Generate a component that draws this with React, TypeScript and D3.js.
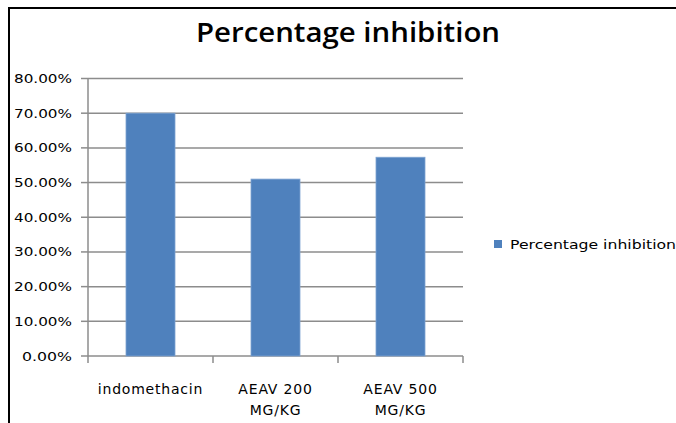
import React from "react";
import * as d3 from "d3";

const categories: string[][] = [["indomethacin"], ["AEAV 200", "MG/KG"], ["AEAV 500", "MG/KG"]];
const values: number[] = [0.70, 0.51, 0.573];
const yTicks: number[] = [0, 0.1, 0.2, 0.3, 0.4, 0.5, 0.6, 0.7, 0.8];
const title = "Percentage inhibition";
const seriesName = "Percentage inhibition";

const W = 676;
const H = 423;
const left = 88;
const right = 463;
const top = 78.5;
const bottom = 356;
const FONT = "'DejaVu Sans', sans-serif";

export default function App() {
  const keys = categories.map((c) => c.join(" "));
  const x = d3.scaleBand<string>().domain(keys).range([left, right]).paddingInner(0.608).paddingOuter(0.304);
  const y = d3.scaleLinear().domain([0, 0.8]).range([bottom, top]);
  const fmt = d3.format(".2%");
  const step = x.step();
  const grid = "#8c8c8c";

  return (
    <svg width={W} height={H} style={{ position: "absolute", left: 0, top: 0, background: "#fff" }}>
      <rect x={0} y={0} width={W} height={H} fill="#fff" />
      <line x1={9} y1={8} x2={W} y2={8} stroke="#000" strokeWidth={2} />
      <line x1={9} y1={7} x2={9} y2={H} stroke="#000" strokeWidth={2} />
      <text x={348} y={42} textAnchor="middle" fontFamily="'Open Sans', sans-serif" fontSize={27} fontWeight={600} fill="#000" textLength={304} lengthAdjust="spacingAndGlyphs">{title}</text>
      {yTicks.map((t) => (
        <g key={t}>
          {t > 0 && <line x1={left} x2={right} y1={y(t)} y2={y(t)} stroke={grid} strokeWidth={1.5} />}
          <line x1={left - 7} x2={left} y1={y(t)} y2={y(t)} stroke={grid} strokeWidth={1.5} />
          <text x={72} y={y(t) + 4.5} textAnchor="end" fontFamily={FONT} fontSize={13} fill="#000" textLength={fmt(t).length === 6 ? 58 : 50} lengthAdjust="spacingAndGlyphs">{fmt(t)}</text>
        </g>
      ))}
      <line x1={left} x2={left} y1={top} y2={bottom} stroke={grid} strokeWidth={1.5} />
      <line x1={left} x2={right} y1={bottom} y2={bottom} stroke={grid} strokeWidth={1.5} />
      {d3.range(keys.length + 1).map((i) => (
        <line key={i} x1={left + i * step} x2={left + i * step} y1={bottom} y2={bottom + 7} stroke={grid} strokeWidth={1.5} />
      ))}
      {values.map((v, i) => (
        <rect key={i} x={x(keys[i])!} y={y(v)} width={x.bandwidth()} height={bottom - y(v)} fill="#4f81bd" stroke="#7ea3d1" strokeWidth={0.8} />
      ))}
      {categories.map((c, i) => (
        <text key={i} textAnchor="middle" fontFamily={FONT} fontSize={14} letterSpacing={0.8} fill="#000">
          {c.map((line, j) => (
            <tspan key={j} x={x(keys[i])! + x.bandwidth() / 2} y={394 + j * 21}>{line}</tspan>
          ))}
        </text>
      ))}
      <rect x={494} y={240} width={8} height={8} fill="#4f81bd" />
      <text x={510} y={249} fontFamily={FONT} fontSize={13} fill="#000" textLength={166} lengthAdjust="spacingAndGlyphs">{seriesName}</text>
    </svg>
  );
}
